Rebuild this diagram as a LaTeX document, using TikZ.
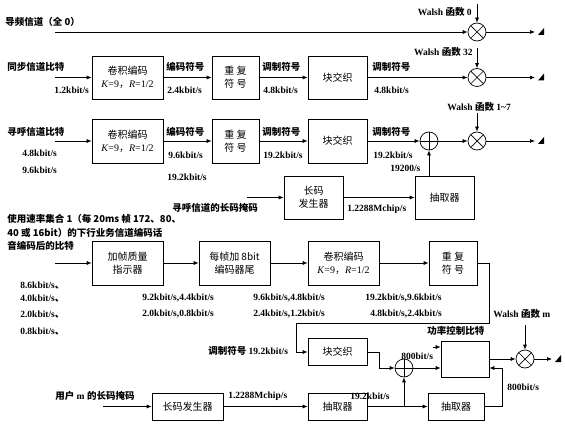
\documentclass[tikz,border=0pt]{standalone}
\usepackage{fontspec}
\setmainfont{Liberation Serif}
\newfontfamily\cjk{Noto Sans CJK SC}
\usetikzlibrary{arrows.meta}

\newcommand\zh[1]{{\cjk #1}}
% small end mark after each output line
\newcommand\ant[1]{\fill (#1) ++(3,3) -- ++(6,0) -- ++(0,-7) -- cycle;}

\begin{document}
\begin{tikzpicture}[x=1pt,y=-1pt,line width=0.7pt,>={Latex[length=5pt,width=4pt]},
    lab/.style={anchor=west,inner sep=0pt,font=\bfseries\fontsize{9.5}{11}\selectfont},
    blk/.style={draw,align=center,inner sep=0pt,font=\fontsize{10}{13}\selectfont},
    mult/.style={circle,draw,minimum size=18pt,inner sep=0pt,
      path picture={\draw (path picture bounding box.north west) -- (path picture bounding box.south east)
                          (path picture bounding box.north east) -- (path picture bounding box.south west);}},
    adder/.style={circle,draw,minimum size=18pt,inner sep=0pt,
      path picture={\draw (path picture bounding box.north) -- (path picture bounding box.south)
                          (path picture bounding box.east) -- (path picture bounding box.west);}}]

  \useasboundingbox (0,0) rectangle (565,425);

  % pilot
  \node[lab] (pilot) at (5,22) {\zh{导频信道（全 0）}};
  \coordinate (p0) at (55,32);
  \node[mult] (m0) at (477,32) {};
  \coordinate (w0) at (477,4);
  \node[lab,anchor=east] (w0l) at (472,12) {Walsh \zh{函数} 0};
  \coordinate (o0) at (535,32);

  \draw[->] (p0) -- (m0);
  \draw[->] (w0) -- (m0);
  \draw[->] (m0) -- (o0); \ant{o0}

  % sync channel
  \node[lab] (syn) at (7,67) {\zh{同步信道比特}};
  \coordinate (s0) at (55,77.5);
  \node[lab] (sr1) at (54,90) {1.2kbit/s};
  \node[blk,minimum width=71pt,minimum height=43pt] (sc) at (127.5,77.5) {\zh{卷积编码}\\\textit{K}=9\zh{，}\textit{R}=1/2};
  \node[lab] (sl1) at (166,67) {\zh{编码符号}};
  \node[lab] (sr2) at (167,90) {2.4kbit/s};
  \node[blk,minimum width=47pt,minimum height=43pt] (sr) at (235.5,77.5) {\zh{重 复}\\\zh{符 号}};
  \node[lab] (sl2) at (262,67) {\zh{调制符号}};
  \node[lab] (sr3) at (263,90) {4.8kbit/s};
  \node[blk,minimum width=59pt,minimum height=43pt] (si) at (337.5,77.5) {\zh{块交织}};
  \node[lab] (sl3) at (372,67) {\zh{调制符号}};
  \node[lab] (sr4) at (374,90) {4.8kbit/s};
  \node[mult] (m1) at (477,77.5) {};
  \coordinate (w1) at (477,48);
  \node[lab,anchor=east] (w1l) at (473,52) {Walsh \zh{函数} 32};
  \coordinate (o1) at (535,77.5);

  \draw[->] (s0) -- (sc);
  \draw[->] (sc) -- (sr);
  \draw[->] (sr) -- (si);
  \draw[->] (si) -- (m1);
  \draw[->] (w1) -- (m1);
  \draw[->] (m1) -- (o1); \ant{o1}

  % paging channel
  \node[lab] (pag) at (7,132) {\zh{寻呼信道比特}};
  \coordinate (q0) at (55,141);
  \node[lab] (pr1) at (22,153) {4.8kbit/s};
  \node[lab] (pr1b) at (22,170) {9.6kbit/s};
  \node[blk,minimum width=71pt,minimum height=44pt] (pc) at (127.5,141) {\zh{卷积编码}\\\textit{K}=9\zh{，}\textit{R}=1/2};
  \node[lab] (pl1) at (166,132) {\zh{编码符号}};
  \node[lab] (pr2) at (168,155) {9.6kbit/s};
  \node[lab] (pr2b) at (167,177) {19.2kbit/s};
  \node[blk,minimum width=47pt,minimum height=44pt] (pr) at (235.5,141) {\zh{重 复}\\\zh{符 号}};
  \node[lab] (pl2) at (262,132) {\zh{调制符号}};
  \node[lab] (pr3) at (263,155) {19.2kbit/s};
  \node[blk,minimum width=59pt,minimum height=44pt] (pi) at (337.5,141) {\zh{块交织}};
  \node[lab] (pl3) at (372,132) {\zh{调制符号}};
  \node[lab] (pr4) at (373,155) {19.2kbit/s};
  \node[adder] (a1) at (429,141) {};
  \node[lab] (pr5) at (390,168) {19200/s};
  \node[mult] (m2) at (477,141) {};
  \coordinate (w2) at (477,113);
  \node[lab] (w2l) at (447,107) {Walsh \zh{函数} 1\textasciitilde 7};
  \coordinate (o2) at (535,141);

  \node[blk,minimum width=59pt,minimum height=43pt] (lg) at (313.5,197.5) {\zh{长码}\\\zh{发生器}};
  \node[blk,minimum width=59pt,minimum height=43pt] (dc) at (444.5,197.5) {\zh{抽取器}};
  \coordinate (lm) at (247,197.5);
  \node[lab] (lml) at (172,208) {\zh{寻呼信道的长码掩码}};
  \node[lab] (chip1) at (347,209) {1.2288Mchip/s};

  \draw[->] (q0) -- (pc);
  \draw[->] (pc) -- (pr);
  \draw[->] (pr) -- (pi);
  \draw[->] (pi) -- (a1);
  \draw[->] (a1) -- (m2);
  \draw[->] (w2) -- (m2);
  \draw[->] (m2) -- (o2); \ant{o2}
  \draw[->] (lm) -- (lg);
  \draw[->] (lg) -- (dc);
  \draw[->] (a1 |- dc.north) -- (a1);

  % traffic channel
  \node[lab,align=left,anchor=north west,font=\bfseries\fontsize{9.5}{13.5}\selectfont] (trf) at (7,214)
    {\zh{使用速率集合 1（每 20ms 帧 172、80、}\\\zh{40 或 16bit）的下行业务信道编码话}\\\zh{音编码后的比特}};
  \coordinate (t0) at (55,263);
  \node[blk,minimum width=71pt,minimum height=44pt] (fq) at (127.5,263) {\zh{加帧质量}\\\zh{指示器}};
  \node[blk,minimum width=71pt,minimum height=44pt] (tb) at (234.5,263) {\zh{每帧加 8bit}\\\zh{编码器尾}};
  \node[blk,minimum width=71pt,minimum height=44pt] (tc) at (343.5,263) {\zh{卷积编码}\\\textit{K}=9\zh{，}\textit{R}=1/2};
  \node[blk,minimum width=48pt,minimum height=44pt] (tr) at (453,263) {\zh{重 复}\\\zh{符 号}};

  \node[lab] (tr1) at (20,286) {8.6kbit/s\zh{、}};
  \node[lab] (tr2) at (20,299) {4.0kbit/s\zh{、}};
  \node[lab] (tr3) at (20,315) {2.0kbit/s\zh{、}};
  \node[lab] (tr4) at (20,332) {0.8kbit/s\zh{、}};
  \node[lab] (tr5) at (142,298) {9.2kbit/s,4.4kbit/s};
  \node[lab] (tr6) at (142,314) {2.0kbit/s,0.8kbit/s};
  \node[lab] (tr7) at (253,298) {9.6kbit/s,4.8kbit/s};
  \node[lab] (tr8) at (253,314) {2.4kbit/s,1.2kbit/s};
  \node[lab] (tr9) at (365,298) {19.2kbit/s,9.6kbit/s};
  \node[lab] (tr10) at (370,314) {4.8kbit/s,2.4kbit/s};
  \node[lab] (wml) at (493,314) {Walsh \zh{函数} m};

  \node[blk,minimum width=59pt,minimum height=27pt] (ti) at (337.5,352) {\zh{块交织}};
  \node[lab] (til) at (208,351) {\zh{调制符号} 19.2kbit/s};
  \node[adder] (a2) at (404,368) {};
  \node[lab] (ar1) at (401,356) {800bit/s};
  \node[blk,minimum width=48pt,minimum height=36pt] (pw) at (465,359) {};
  \node[lab] (pwl) at (427,331) {\zh{功率控制比特}};
  \coordinate (pb) at (433,347);
  \node[mult] (m3) at (525,359) {};
  \coordinate (wm) at (525,325);
  \coordinate (o3) at (552,359);

  \node[lab] (uml) at (55,396) {\zh{用户} m \zh{的长码掩码}};
  \coordinate (um) at (103,406.5);
  \node[blk,minimum width=71pt,minimum height=27pt] (lg2) at (187.5,406.5) {\zh{长码发生器}};
  \node[lab] (chip2) at (228,396) {1.2288Mchip/s};
  \node[blk,minimum width=59pt,minimum height=27pt] (d2) at (337.5,406.5) {\zh{抽取器}};
  \node[lab] (dr1) at (350,396) {19.2kbit/s};
  \node[blk,minimum width=56pt,minimum height=27pt] (d3) at (456,406.5) {\zh{抽取器}};
  \node[lab] (dr2) at (507,387) {800bit/s};

  \draw[->] (t0) -- (fq);
  \draw[->] (fq) -- (tb);
  \draw[->] (tb) -- (tc);
  \draw[->] (tc) -- (tr);
  \draw[->] (tr.east) -- (489,263) -- (489,323) -- (296,323) |- (ti.west);
  \draw[->] (ti.east) -| (379,368) -- (a2);
  \draw[->] (a2) -- (a2 -| pw.west);
  \draw[->] (pb) -- (pb -| pw.west);
  \draw[->] (pw) -- (m3);
  \draw[->] (wm) -- (m3);
  \draw[->] (m3) -- (o3); \ant{o3}
  \draw[->] (um) -- (lg2);
  \draw[->] (lg2) -- (d2);
  \draw[->] (d2) -- (d3);
  \draw[->] (a2 |- d2) -- (a2);
  \draw[->] (d3.east) -| (502,368) -- (pw.east |- a2);
\end{tikzpicture}
\end{document}
